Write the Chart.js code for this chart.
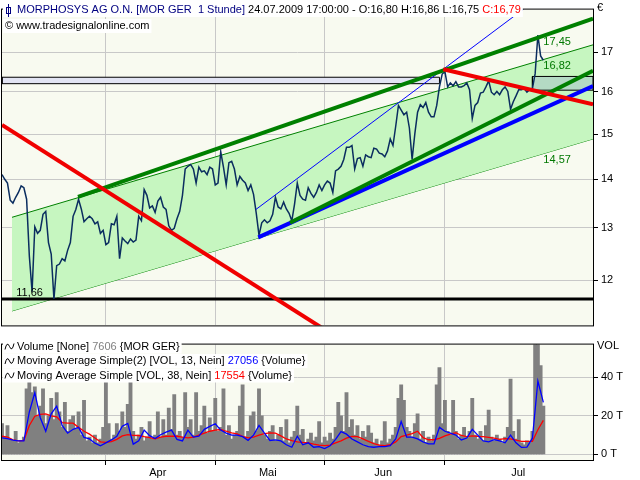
<!DOCTYPE html>
<html>
<head>
<meta charset="utf-8">
<script src="https://cdn.jsdelivr.net/npm/chart.js@4.4.1/dist/chart.umd.min.js"></script>
<style>
  html, body { margin: 0; padding: 0; background: #fff; }
  #wrap { position: relative; width: 640px; height: 480px; }
  canvas { position: absolute; left: 0; }
  #price { top: 0; }
  #vol { top: 335px; }
</style>
</head>
<body>
<div id="wrap">
  <canvas id="price" width="640" height="335"></canvas>
  <canvas id="vol" width="640" height="145"></canvas>
</div>
<script>
// time axis is in trading days since 5 March 2009
const X_MAX = 108.08;
const monthStarts = [19, 39, 59, 81];
const monthNames = ['Apr', 'Mai', 'Jun', 'Jul'];
const monthLabelAt = [28.5, 48.6, 69.7, 94.4];
const priceTicks = [12, 13, 14, 15, 16, 17];
const volTicks = [0, 20, 40];

// hourly close, sampled every half trading day
const PRICE_STEP = 0.5;
const prices = [
  14.10, 14.00, 13.92, 13.56, 13.50, 13.62, 13.72, 13.86, 13.82, 13.58,
  12.45, 11.79, 13.02, 12.89, 12.95, 13.27, 13.33, 12.71, 12.49, 11.66,
  12.27, 12.30, 12.40, 12.36, 12.56, 12.71, 13.23, 13.37, 13.58, 13.38,
  13.12, 13.18, 13.23, 13.18, 13.08, 13.12, 12.89, 12.95, 12.67, 12.71,
  13.08, 13.06, 13.23, 12.40, 12.80, 12.74, 12.69, 12.78, 12.72, 12.76,
  13.23, 13.14, 13.78, 13.66, 13.40, 13.44, 13.31, 13.54, 13.62, 13.42,
  13.37, 13.04, 12.95, 12.99, 13.18, 13.33, 13.66, 14.22, 14.28, 14.32,
  14.22, 13.92, 14.26, 14.16, 14.18, 14.10, 14.26, 14.22, 13.88, 13.92,
  14.60, 14.26, 13.88, 14.36, 14.39, 14.22, 13.88, 14.06, 13.98, 13.92,
  13.76, 13.88, 13.68, 13.29, 12.85, 13.10, 13.16, 13.10, 13.14, 13.27,
  13.62, 13.42, 13.38, 13.52, 13.38, 13.29, 13.14, 13.48, 13.92, 13.66,
  13.58, 13.56, 13.82, 13.70, 13.62, 13.72, 13.88, 13.76, 13.88, 13.96,
  13.92, 13.72, 14.18, 14.22, 14.28, 14.43, 14.70, 14.70, 14.74, 14.22,
  14.45, 14.47, 14.28, 14.53, 14.49, 14.47, 14.68, 14.66, 14.57, 14.55,
  14.49, 14.62, 14.89, 14.74, 15.18, 15.67, 15.56, 15.45, 15.51, 15.14,
  14.43, 15.01, 15.51, 15.69, 15.62, 15.74, 15.51, 15.40, 15.40, 15.67,
  16.12, 16.44, 16.50, 16.12, 16.22, 16.15, 16.25, 16.12, 16.12, 16.15,
  16.22, 16.05, 15.36, 15.67, 15.74, 15.97, 15.99, 16.12, 16.27, 15.99,
  15.93, 16.01, 15.93, 16.05, 16.12, 16.01, 15.58, 15.76, 15.90, 16.05,
  16.05, 16.08, 15.99, 16.05, 16.08, 16.45, 17.45, 16.90, 16.79
];

// volume in thousand shares, same sampling as prices
const volume = [
  16, 9, 15, 8, 7, 12, 6, 7, 9, 34,
  40, 32, 35, 20, 25, 34, 16, 20, 29, 18,
  32, 22, 14, 27, 12, 18, 20, 13, 22, 10,
  28, 7, 9, 6, 10, 6, 8, 14, 44, 16,
  8, 10, 16, 12, 22, 14, 26, 38, 12, 8,
  10, 14, 7, 9, 17, 8, 10, 22, 9, 18,
  10, 24, 13, 31, 10, 12, 9, 32, 14, 18,
  10, 32, 12, 15, 25, 11, 19, 12, 29, 12,
  14, 34, 10, 15, 8, 10, 12, 25, 36, 9,
  12, 20, 22, 12, 34, 20, 10, 8, 12, 15,
  7, 10, 14, 7, 18, 6, 9, 12, 25, 10,
  13, 6, 8, 11, 7, 9, 17, 6, 9, 7,
  11, 8, 14, 27, 20, 12, 32, 14, 18, 10,
  15, 8, 12, 9, 15, 11, 6, 8, 5, 7,
  17, 6, 8, 10, 14, 29, 36, 28, 14, 12,
  9, 16, 21, 8, 12, 6, 9, 7, 10, 36,
  45, 16, 28, 12, 10, 28, 12, 8, 10, 14,
  9, 12, 29, 10, 8, 12, 7, 15, 23, 9,
  7, 10, 8, 6, 9, 14, 39, 12, 8, 18,
  6, 5, 7, 6, 12, 57, 58, 46, 25
];

// volume moving averages, one value per trading day
const MA_STEP = 1;
const volMa13 = [
  8.6, 8.2, 7.4, 7.0, 7.0, 22, 32, 19, 12, 21,
  25, 15, 11, 13, 14, 8.8, 8, 5.8, 4.5, 6,
  7.5, 9.4, 14.6, 16, 5.3, 7, 12.6, 9.7, 8.2, 10.2,
  11.5, 12.6, 7.8, 7, 12.6, 9, 9.5, 13, 14.5, 15.9,
  12.6, 11, 10, 10, 9.2, 7.3, 10, 15, 11, 7.2,
  7.5, 7, 5, 3.7, 9.4, 5, 6, 3.7, 4, 3,
  4.5, 7.8, 11.8, 10.5, 8, 6.5, 5, 4, 3.7, 4,
  4, 4.5, 8, 17, 9, 9, 8, 6.5, 5.5, 5.5,
  14, 12, 11, 10, 7.5, 8.5, 13, 10, 7, 6.5,
  7.6, 7, 6, 10, 6, 3.6, 3.8, 8.4, 38, 27
];
const volMa38 = [
  9.4, 9.0, 7.5, 7.0, 7.3, 15, 19.8, 20.7, 21, 20,
  19.5, 16.5, 16.2, 16.2, 14, 12, 10.5, 8.5, 6.5, 6.2,
  6.6, 7.8, 9.6, 10.2, 9.9, 9.8, 9.2, 8.7, 8.1, 9.0,
  9.4, 9.5, 9.4, 8.9, 8.6, 8.9, 10.0, 11.0, 12.0, 12.6,
  12.9, 12.0, 11.2, 10.6, 9.4, 8.6, 9.0, 10.0, 10.8, 11.2,
  11.0, 9.6, 8.0, 7.2, 6.5, 6.2, 6.0, 5.3, 4.8, 4.5,
  4.8, 6.0, 7.0, 8.4, 9.3, 9.2, 8.0, 6.8, 5.6, 4.8,
  4.5, 5.0, 6.5, 9.2, 10.0, 10.8, 12.0, 8.7, 7.6, 7.6,
  8.3, 9.6, 10.5, 11.2, 9.8, 9.2, 9.6, 9.3, 9.2, 8.8,
  8.4, 7.8, 8.2, 8.0, 7.4, 6.8, 6.8, 6.8, 12.8, 17.6
];

// drawing tools: [day, price] end points
const channelTop = [[1.83, 13.21], [108.08, 17.19]];
const channelBottom = [[1.83, 11.45], [108.08, 14.89]];
const trendUpper = [[13.9, 13.63], [108.08, 17.89]];
const trendLowerGreen = [[52.67, 13.10], [108.08, 16.52]];
const trendLowerBlue = [[46.87, 12.81], [108.08, 16.14]];
const fanLine = [[46.45, 13.37], [98.4, 18.50]];
const downTrend1 = [[0, 15.21], [60.0, 11.07]];
const downTrend2 = [[80.7, 16.56], [108.08, 15.70]];
const lowLine = [[0, 11.66], [108.08, 11.66]];
const zoneADays = [0, 80.0];
const zoneAPrices = [16.20, 16.36];
const zoneBDays = [97.0, 108.08];
const zoneBPrices = [16.04, 16.38];

const P_MIN = 11.23, P_MAX = 18.14;
const V_MIN = -2.9, V_MAX = 56.9;
const GRID = '#c8c8c8';
const PLOT_BG = '#f8faf0';
const FONT = '11px "Liberation Sans", Arial, sans-serif';

Chart.defaults.font.family = '"Liberation Sans", Arial, sans-serif';
Chart.defaults.font.size = 11;
Chart.defaults.color = '#000';

const pts = arr => arr.map(([x, y]) => ({ x, y }));
const series = (vals, step) => vals.map((v, i) => ({ x: i * step, y: v }));
const box = (days, prs) => [
  { x: days[0], y: prs[0] }, { x: days[1], y: prs[0] },
  { x: days[1], y: prs[1] }, { x: days[0], y: prs[1] }, { x: days[0], y: prs[0] }
];

function line(data, color, width, order, extra) {
  return Object.assign({ type: 'line', data, borderColor: color, borderWidth: width,
    pointRadius: 0, tension: 0, fill: false, clip: 0, order }, extra || {});
}

function textRow(ctx, x, y, parts, bgLeft) {
  ctx.font = FONT;
  const w = parts.reduce((s, p) => s + ctx.measureText(p.text).width, 0);
  if (bgLeft) {
    ctx.fillStyle = '#ffffff';
    ctx.fillRect(bgLeft, y - 7, x + w - bgLeft + 2, 14);
  }
  ctx.textBaseline = 'middle';
  ctx.textAlign = 'left';
  for (const p of parts) {
    ctx.fillStyle = p.color;
    ctx.fillText(p.text, x, y);
    x += ctx.measureText(p.text).width;
  }
}

function wiggle(ctx, x, y) {
  ctx.beginPath();
  ctx.moveTo(x, y + 3);
  ctx.quadraticCurveTo(x + 2, y - 6, x + 4.5, y);
  ctx.quadraticCurveTo(x + 7, y + 6, x + 9, y - 3);
  ctx.strokeStyle = '#000';
  ctx.lineWidth = 1;
  ctx.stroke();
}

function frame(chart) {
  const { ctx, chartArea: a } = chart;
  ctx.strokeStyle = '#000';
  ctx.lineWidth = 1;
  ctx.strokeRect(a.left - 0.5, a.top - 0.5, a.right - a.left + 1, a.bottom - a.top + 1);
}

const background = {
  id: 'background',
  beforeDraw(chart) {
    const { ctx, chartArea: a } = chart;
    ctx.save();
    ctx.fillStyle = '#ffffff';
    ctx.fillRect(0, 0, chart.width, chart.height);
    ctx.fillStyle = PLOT_BG;
    ctx.fillRect(a.left, a.top, a.right - a.left, a.bottom - a.top);
    ctx.restore();
  }
};

const priceOverlay = {
  id: 'priceOverlay',
  afterDraw(chart) {
    const { ctx } = chart;
    const xs = chart.scales.x, ys = chart.scales.y;
    ctx.save();
    frame(chart);
    // values of the drawing tools at the last bar
    ctx.font = FONT;
    ctx.textAlign = 'left';
    ctx.fillStyle = '#007800';
    ctx.textBaseline = 'top';
    for (const [txt, v] of [['17,45', 17.45], ['16,82', 16.82], ['14,57', 14.57]]) {
      ctx.fillText(txt, xs.getPixelForValue(99), ys.getPixelForValue(v) + 1);
    }
    ctx.fillStyle = '#000';
    ctx.textBaseline = 'alphabetic';
    ctx.fillText('11,66', xs.getPixelForValue(2.6), ys.getPixelForValue(11.66) - 3);
    // header
    textRow(ctx, 17, 10, [
      { text: 'MORPHOSYS AG O.N. [MOR GER  1 Stunde]', color: '#000080' },
      { text: ' 24.07.2009 17:00:00 - O:16,80 H:16,86 L:16,75 ', color: '#000' },
      { text: 'C:16,79', color: '#ff0000' }
    ], 3);
    ctx.strokeStyle = '#000080';
    ctx.lineWidth = 1;
    ctx.beginPath(); ctx.moveTo(8.5, 4); ctx.lineTo(8.5, 17); ctx.stroke();
    ctx.strokeRect(6.5, 7.5, 4, 6);
    textRow(ctx, 5, 26, [{ text: '\u00a9 www.tradesignalonline.com', color: '#000' }], 3);
    ctx.fillStyle = '#000';
    ctx.textBaseline = 'middle';
    ctx.fillText('\u20ac', 597, 8);
    ctx.restore();
  }
};

const volOverlay = {
  id: 'volOverlay',
  afterDraw(chart) {
    const { ctx } = chart;
    ctx.save();
    frame(chart);
    const rows = [
      [{ text: 'Volume [None] ', color: '#000' }, { text: '7606', color: '#808080' }, { text: ' {MOR GER}', color: '#000' }],
      [{ text: 'Moving Average Simple(2) [VOL, 13, Nein] ', color: '#000' }, { text: '27056', color: '#0000ff' }, { text: ' {Volume}', color: '#000' }],
      [{ text: 'Moving Average Simple [VOL, 38, Nein] ', color: '#000' }, { text: '17554', color: '#ff0000' }, { text: ' {Volume}', color: '#000' }]
    ];
    rows.forEach((r, i) => {
      const y = 11.5 + i * 14.5;
      textRow(ctx, 17, y, r, 3);
      wiggle(ctx, 5, y);
    });
    ctx.font = FONT;
    ctx.fillStyle = '#000';
    ctx.textBaseline = 'middle';
    ctx.fillText('VOL', 597, 10.5);
    ctx.restore();
  }
};

new Chart(document.getElementById('price'), {
  type: 'line',
  data: {
    datasets: [
      line(pts(downTrend1), '#f00000', 4, 1),
      line(pts(downTrend2), '#f00000', 4, 1),
      line(pts(trendUpper), '#008000', 4, 2),
      line(pts(trendLowerGreen), '#008000', 4, 2),
      line(pts(trendLowerBlue), '#0000ff', 4, 3),
      line(pts(fanLine), '#0000ff', 1, 4),
      line(series(prices, PRICE_STEP), '#0a2d5f', 1.5, 5),
      line(pts(lowLine), '#000000', 3, 6),
      line(box(zoneADays, zoneAPrices), '#000000', 1, 7, { fill: 'shape', backgroundColor: '#e2e4f3' }),
      line(box(zoneBDays, zoneBPrices), '#000000', 1, 7, { fill: 'shape', backgroundColor: '#b4dac4' }),
      line(pts(channelTop), '#008000', 1, 8, { fill: '+1', backgroundColor: '#c6f6c0' }),
      line(pts(channelBottom), '#008000', 1, 8)
    ]
  },
  options: {
    responsive: false,
    animation: false,
    events: [],
    layout: { padding: { top: 2, left: 2, right: 0, bottom: 0 } },
    plugins: { legend: { display: false }, tooltip: { enabled: false } },
    scales: {
      x: {
        type: 'linear', min: 0, max: X_MAX,
        afterBuildTicks: s => { s.ticks = monthStarts.map(v => ({ value: v })); },
        ticks: { display: false },
        grid: { color: GRID, drawTicks: false },
        border: { display: false },
        afterFit: s => { s.height = 2; }
      },
      y: {
        type: 'logarithmic', position: 'right', min: P_MIN, max: P_MAX,
        afterBuildTicks: s => { s.ticks = priceTicks.map(v => ({ value: v })); },
        ticks: { callback: v => String(v), padding: 3, color: '#000', font: { size: 11 } },
        grid: { color: GRID, tickLength: 5, tickColor: '#000' },
        border: { display: false },
        afterFit: s => { s.width = 47; }
      }
    }
  },
  plugins: [background, priceOverlay]
});

new Chart(document.getElementById('vol'), {
  type: 'bar',
  data: {
    datasets: [
      line(series(volMa13, MA_STEP), '#0000ff', 1.3, 1),
      line(series(volMa38, MA_STEP), '#ff0000', 1.3, 2),
      { type: 'bar', data: series(volume, PRICE_STEP), backgroundColor: '#808080',
        barThickness: 3.2, grouped: false, order: 3 }
    ]
  },
  options: {
    responsive: false,
    animation: false,
    events: [],
    layout: { padding: { top: 2, left: 2, right: 0, bottom: 0 } },
    plugins: { legend: { display: false }, tooltip: { enabled: false } },
    scales: {
      x: {
        type: 'linear', min: 0, max: X_MAX, offset: false,
        afterBuildTicks: s => {
          s.ticks = monthStarts.concat(monthLabelAt).sort((a, b) => a - b).map(v => ({ value: v }));
        },
        ticks: {
          autoSkip: false, maxRotation: 0, padding: 1,
          callback: v => { const i = monthLabelAt.indexOf(v); return i >= 0 ? monthNames[i] : ''; }
        },
        grid: {
          offset: false, tickLength: 5,
          color: c => (c.tick && c.tick.label ? 'rgba(0,0,0,0)' : GRID),
          tickColor: c => (c.tick && c.tick.label ? 'rgba(0,0,0,0)' : '#000')
        },
        border: { display: false },
        afterFit: s => { s.height = 20; }
      },
      y: {
        position: 'right', min: V_MIN, max: V_MAX,
        afterBuildTicks: s => { s.ticks = volTicks.map(v => ({ value: v })); },
        ticks: { callback: v => v + ' T', padding: 3, color: '#000' },
        grid: { color: GRID, tickLength: 5, tickColor: '#000' },
        border: { display: false },
        afterFit: s => { s.width = 47; }
      }
    }
  },
  plugins: [background, volOverlay]
});
</script>
</body>
</html>
